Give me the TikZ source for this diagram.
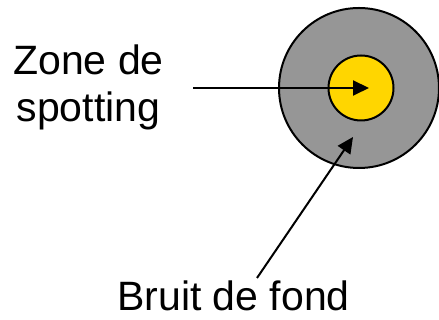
\documentclass[tikz,border=0pt]{standalone}
\usepackage{fontspec}
\setmainfont{Liberation Sans}
\usetikzlibrary{arrows.meta}
\begin{document}
\begin{tikzpicture}[x=1pt,y=1pt,
  ring/.style={draw=black,line width=2pt},
  pointer/.style={line width=2pt,-{Triangle[length=16pt,width=15pt]}},
  lbl/.style={font=\fontsize{41}{47}\selectfont,inner sep=0pt}]
\useasboundingbox (0,0) rectangle (439,320);
% outer background disc and inner spotting zone
\node[ring,circle,fill={rgb,255:red,150;green,150;blue,150},minimum size=160pt,inner sep=0pt] (bg) at (359,232) {};
\node[ring,circle,fill={rgb,255:red,255;green,214;blue,0},minimum size=65pt,inner sep=0pt] (spot) at (361,232) {};
% labels
\node[lbl,align=center,anchor=base] (zone) at (88.5,198) {Zone de\\spotting};
\node[lbl,anchor=base] (bruit) at (233.5,9) {Bruit de fond};
% arrow endpoints
\coordinate (zs) at (193,232);
\coordinate (zt) at (369,232);
\coordinate (bs) at (257,42);
\coordinate (bt) at (353,183);
\draw[pointer] (zs) -- (zt);
\draw[pointer] (bs) -- (bt);
\end{tikzpicture}
\end{document}
